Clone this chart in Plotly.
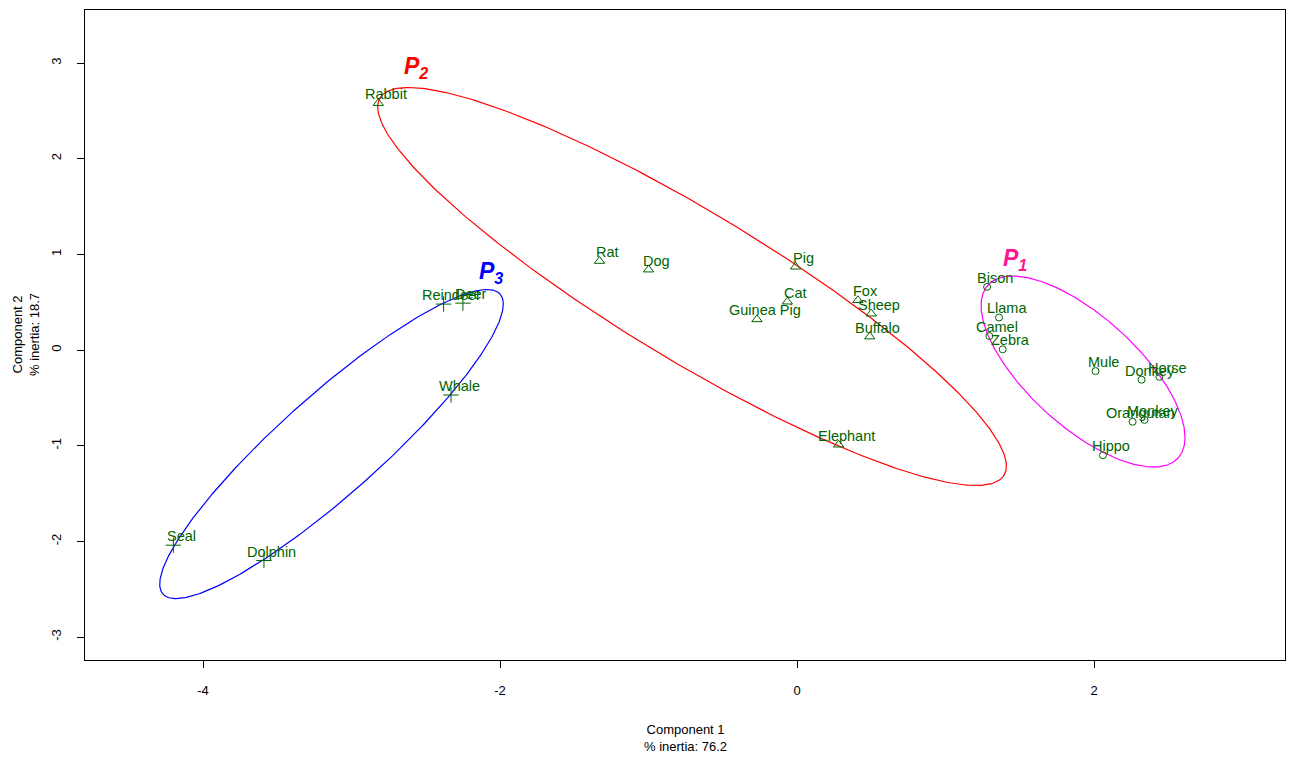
import numpy as np
import plotly.graph_objects as go

# ---- data ----
names1 = ["Bison", "Llama", "Camel", "Zebra", "Mule", "Donkey", "Horse", "Orangutan", "Monkey", "Hippo"]
x1 = [1.28, 1.36, 1.295, 1.385, 2.01, 2.32, 2.44, 2.26, 2.34, 2.06]
y1 = [0.66, 0.34, 0.146, 0.007, -0.22, -0.31, -0.28, -0.75, -0.73, -1.10]

names2 = ["Rabbit", "Rat", "Dog", "Pig", "Cat", "Guinea Pig", "Fox", "Sheep", "Buffalo", "Elephant"]
x2 = [-2.82, -1.33, -1.00, -0.01, -0.065, -0.27, 0.41, 0.50, 0.49, 0.28]
y2 = [2.58, 0.93, 0.84, 0.87, 0.505, 0.32, 0.52, 0.38, 0.14, -0.99]

names3 = ["Reindeer", "Deer", "Whale", "Seal", "Dolphin"]
x3 = [-2.38, -2.25, -2.33, -4.20, -3.59]
y3 = [0.48, 0.49, -0.47, -2.04, -2.20]

# ellipse parameters: center, two conjugate half-axis vectors (data units)
ell_center = {"P1": (1.926, -0.225), "P2": (-0.707, 0.664), "P3": (-3.135, -0.983)}
ell_a = {"P1": (0.640, -0.904), "P2": (2.101, -1.972), "P3": (1.135, 1.568)}
ell_b = {"P1": (0.249, 0.424), "P2": (0.259, 0.661), "P3": (0.224, -0.390)}
ell_color = {"P1": "#FF00FF", "P2": "#FF0000", "P3": "#0000FF"}
lab_color = {"P1": "#FF1493", "P2": "#FF0000", "P3": "#0000FF"}
lab_pos = {"P1": (1.471, 0.941), "P2": (-2.566, 2.948), "P3": (-2.061, 0.815)}

x_ticks = [-4, -2, 0, 2]
y_ticks = [-3, -2, -1, 0, 1, 2, 3]

FONT = "Liberation Sans, Arial, Helvetica, sans-serif"
GREEN = "#006400"

fig = go.Figure()

t = np.linspace(0, 2 * np.pi, 400)
for k in ["P1", "P2", "P3"]:
    cx, cy = ell_center[k]
    ax, ay = ell_a[k]
    bx, by = ell_b[k]
    fig.add_trace(go.Scatter(
        x=cx + ax * np.cos(t) + bx * np.sin(t),
        y=cy + ay * np.cos(t) + by * np.sin(t),
        mode="lines", line=dict(color=ell_color[k], width=1.2),
        hoverinfo="skip", showlegend=False))

groups = [
    (names1, x1, y1, "circle-open", 7),
    (names2, x2, y2, "triangle-up-open", 9),
    (names3, x3, y3, "cross-thin-open", 11),
]
annotations = []
for nm, xs, ys, sym, sz in groups:
    fig.add_trace(go.Scatter(
        x=xs, y=ys, mode="markers",
        marker=dict(symbol=sym, size=sz, color=GREEN, line=dict(color=GREEN, width=1)),
        text=nm, hoverinfo="text", showlegend=False))
    for n, xv, yv in zip(nm, xs, ys):
        annotations.append(dict(x=xv, y=yv, xref="x", yref="y", text=n, showarrow=False,
                                xshift=8, yshift=9,
                                font=dict(family=FONT, size=14.5, color=GREEN)))

for k in ["P1", "P2", "P3"]:
    px, py = lab_pos[k]
    annotations.append(dict(x=px, y=py, xref="x", yref="y",
                            text="<b><i>P<sub>%s</sub></i></b>" % k[1], showarrow=False,
                            font=dict(family=FONT, size=23, color=lab_color[k])))

annotations.append(dict(x=0.5, y=0, xref="paper", yref="paper", xanchor="center", yanchor="top",
                        yshift=-60, showarrow=False,
                        text="Component 1<br>% inertia: 76.2",
                        font=dict(family=FONT, size=13, color="black")))
annotations.append(dict(x=0, y=0.5, xref="paper", yref="paper", xanchor="center", yanchor="middle",
                        xshift=-59, showarrow=False, textangle=-90,
                        text="Component 2<br>% inertia: 18.7",
                        font=dict(family=FONT, size=13, color="black")))

fig.update_layout(
    width=1289, height=758,
    margin=dict(l=85, r=4, t=10, b=98),
    plot_bgcolor="white", paper_bgcolor="white",
    font=dict(family=FONT, size=13, color="black"),
    annotations=annotations,
    showlegend=False,
)
fig.update_xaxes(range=[-4.795, 3.286], showgrid=False, zeroline=False, automargin=False,
                 showline=True, linecolor="black", linewidth=1, mirror=True,
                 ticks="outside", ticklen=7, tickcolor="black", ticklabelstandoff=11,
                 tickvals=x_ticks, ticktext=[str(v) for v in x_ticks],
                 tickfont=dict(family=FONT, size=13))
fig.update_yaxes(range=[-3.240, 3.554], showgrid=False, zeroline=False, automargin=False,
                 showline=True, linecolor="black", linewidth=1, mirror=True,
                 ticks="outside", ticklen=7, tickcolor="black", ticklabelstandoff=11,
                 tickvals=y_ticks, ticktext=[str(v) for v in y_ticks],
                 tickangle=-90, tickfont=dict(family=FONT, size=13))

fig.write_html("out.html", config={"displayModeBar": False},
               post_script="document.body.style.margin='0';document.body.style.overflow='hidden';")
